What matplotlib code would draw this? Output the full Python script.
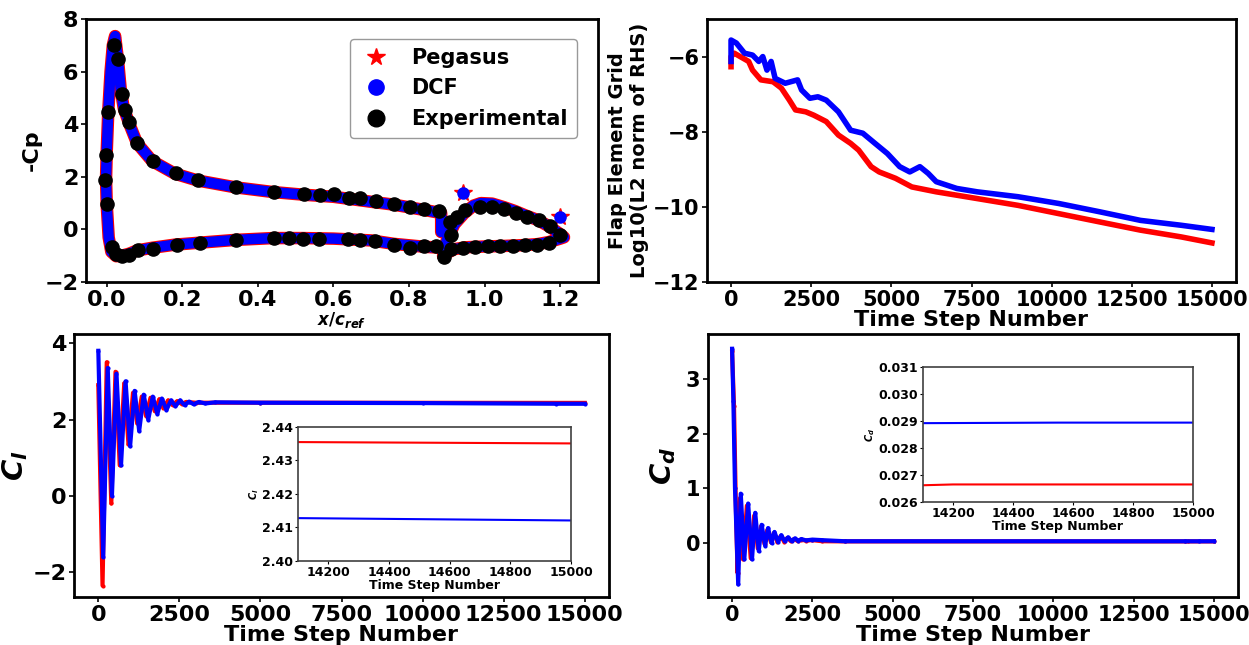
import matplotlib
matplotlib.use("Agg")
import matplotlib.pyplot as plt
from matplotlib.lines import Line2D

plt.rcParams["font.family"] = ["DejaVu Sans"]
plt.rcParams["font.weight"] = "bold"
plt.rcParams["axes.labelweight"] = "bold"
plt.rcParams["mathtext.fontset"] = "dejavusans"

# ---- Cp distribution (x/c_ref, -Cp) ----
main_x = [0.885, 0.885, 0.84, 0.76, 0.70, 0.60, 0.52, 0.44, 0.34, 0.24, 0.18, 0.12,
          0.08, 0.06, 0.045, 0.037, 0.03, 0.022, 0.016, 0.01, 0.004, 0.0, -0.002,
          0.0, 0.005, 0.012, 0.025, 0.04, 0.06, 0.08, 0.12, 0.18, 0.25, 0.34, 0.44,
          0.52, 0.60, 0.70, 0.76, 0.84, 0.885]
main_cp = [-0.1, 0.62, 0.74, 0.94, 1.05, 1.24, 1.32, 1.42, 1.6, 1.86, 2.12, 2.6,
           3.28, 4.0, 4.6, 5.3, 6.4, 7.35, 7.0, 6.0, 4.5, 3.0, 1.9, 0.9, -0.3,
           -0.85, -1.02, -1.0, -0.92, -0.8, -0.7, -0.58, -0.5, -0.4, -0.33, -0.33,
           -0.35, -0.42, -0.55, -0.66, -0.7]
flap_x = [0.89, 0.90, 0.92, 0.945, 0.97, 0.99, 1.02, 1.05, 1.08, 1.11, 1.14, 1.17,
          1.20, 1.21, 1.20, 1.17, 1.14, 1.10, 1.05, 1.0, 0.95, 0.92, 0.90, 0.89]
flap_cp = [-1.0, -0.4, 0.2, 0.6, 0.9, 1.0, 0.98, 0.85, 0.7, 0.52, 0.36, 0.12,
           -0.18, -0.3, -0.35, -0.48, -0.56, -0.6, -0.63, -0.65, -0.68, -0.75,
           -0.9, -1.0]
spike_x = [0.943, 1.20]
spike_cp = [1.39, 0.48]

exp_x = [0.018, 0.029, 0.041, 0.049, 0.060, 0.080, 0.121, 0.183, 0.242, 0.342,
         0.443, 0.522, 0.563, 0.601, 0.642, 0.671, 0.713, 0.761, 0.802, 0.840,
         0.879, 0.003, -0.002, -0.004, 0.0, 0.015, 0.024, 0.039, 0.060, 0.083,
         0.123, 0.186, 0.246, 0.342, 0.443, 0.481, 0.519, 0.561, 0.638, 0.671,
         0.710, 0.761, 0.802, 0.840, 0.871, 0.892, 0.912, 0.907, 0.928, 0.948,
         0.989, 1.020, 1.051, 1.082, 1.113, 1.143, 1.172, 1.200, 0.912, 0.943,
         0.974, 1.008, 1.041, 1.075, 1.108, 1.138, 1.169]
exp_cp = [7.02, 6.48, 5.14, 4.54, 4.07, 3.30, 2.60, 2.13, 1.86, 1.61, 1.44, 1.34,
          1.30, 1.34, 1.21, 1.18, 1.07, 0.97, 0.86, 0.77, 0.69, 4.48, 2.83, 1.88,
          0.96, -0.67, -0.92, -1.02, -0.98, -0.79, -0.73, -0.60, -0.51, -0.39,
          -0.34, -0.31, -0.37, -0.35, -0.37, -0.39, -0.46, -0.59, -0.69, -0.64,
          -0.63, -1.05, -0.22, 0.29, 0.48, 0.73, 0.86, 0.86, 0.77, 0.64, 0.48,
          0.35, 0.13, -0.22, -0.73, -0.69, -0.67, -0.64, -0.64, -0.63, -0.60,
          -0.58, -0.51]

# ---- flap residual history ----
res_peg_step = [0, 0, 100, 550, 670, 930, 1310, 1570, 1820, 2010, 2330, 2580, 2970,
                3350, 3730, 3980, 4370, 4620, 5130, 5640, 6400, 7680, 8950, 10220,
                11490, 12770, 14040, 15000]
res_peg = [-6.27, -6.0, -5.91, -6.13, -6.36, -6.62, -6.67, -6.84, -7.16, -7.42,
           -7.47, -7.56, -7.73, -8.09, -8.31, -8.49, -8.93, -9.07, -9.24, -9.47,
           -9.6, -9.78, -9.96, -10.18, -10.4, -10.62, -10.8, -10.96]
res_dcf_step = [0, 0, 165, 420, 670, 865, 990, 1120, 1250, 1375, 1690, 2075, 2200,
                2460, 2710, 2970, 3350, 3730, 4110, 4490, 4875, 5260, 5575, 5890,
                6150, 6400, 7040, 7680, 8950, 10220, 11490, 12770, 14040, 15000]
res_dcf = [-6.13, -5.56, -5.64, -5.91, -5.96, -6.13, -6.0, -6.36, -6.13, -6.58,
           -6.71, -6.62, -6.89, -7.11, -7.07, -7.16, -7.47, -7.96, -8.04, -8.31,
           -8.58, -8.93, -9.07, -8.93, -9.11, -9.33, -9.51, -9.6, -9.73, -9.91,
           -10.13, -10.36, -10.49, -10.6]

# ---- lift coefficient history (extrema) ----
cl_peg_step = [0, 130, 260, 400, 530, 660, 800, 930, 1070, 1200, 1340, 1470, 1610,
               1740, 1880, 2010, 2150, 2290, 2430, 2570, 2710, 3000, 5000, 14100, 15000]
cl_peg = [2.9, -2.35, 3.5, -0.2, 3.25, 0.8, 2.95, 1.35, 2.7, 1.9, 2.6, 2.1, 2.57,
          2.22, 2.53, 2.3, 2.5, 2.38, 2.48, 2.41, 2.46, 2.44, 2.44, 2.4355, 2.4351]
cl_dcf_step = [0, 150, 290, 420, 560, 700, 840, 980, 1120, 1260, 1400, 1540, 1680,
               1820, 1960, 2100, 2240, 2380, 2520, 2660, 2800, 2940, 3100, 3300,
               3600, 5000, 10000, 14100, 15000]
cl_dcf = [3.8, -1.6, 3.35, 0.0, 3.2, 0.8, 3.0, 1.3, 2.75, 1.7, 2.65, 2.0, 2.6, 2.15,
          2.55, 2.25, 2.5, 2.35, 2.5, 2.38, 2.47, 2.4, 2.46, 2.42, 2.45, 2.44,
          2.43, 2.4128, 2.4121]

# ---- drag coefficient history ----
cd_peg_step = [0, 60, 120, 170, 250, 340, 460, 580, 690, 800, 900, 1010, 1100, 1210,
               1300, 1410, 1510, 1620, 1720, 1830, 1930, 2040, 2140, 2300, 2500,
               2800, 3500, 14100, 14200, 15000]
cd_peg = [3.5, 2.5, 0.6, -0.55, 0.82, -0.3, 0.68, -0.28, 0.5, -0.1, 0.3, -0.02,
          0.24, 0.01, 0.18, 0.02, 0.12, 0.025, 0.09, 0.03, 0.07, 0.035, 0.06, 0.04,
          0.05, 0.03, 0.027, 0.02662, 0.02665, 0.02665]
cd_dcf_step = [0, 40, 90, 190, 270, 380, 500, 620, 720, 830, 920, 1030, 1120, 1230,
               1320, 1430, 1530, 1640, 1740, 1850, 1950, 2060, 2160, 2300, 2500,
               2800, 3500, 14100, 14550, 15000]
cd_dcf = [3.55, 2.6, 1.0, -0.76, 0.9, -0.3, 0.72, -0.3, 0.55, -0.15, 0.33, -0.05,
          0.27, 0.0, 0.2, 0.02, 0.14, 0.03, 0.1, 0.035, 0.08, 0.04, 0.07, 0.045,
          0.06, 0.05, 0.03, 0.02892, 0.02894, 0.02894]

W, H = 1249, 645
STEPS = [0, 2500, 5000, 7500, 10000, 12500, 15000]


def box(left, top, right, bottom):
    return [left / W, 1 - bottom / H, (right - left) / W, (bottom - top) / H]


def style(ax, lw=2.0, size=15):
    for s in ax.spines.values():
        s.set_linewidth(lw)
    ax.tick_params(labelsize=size, width=1.2, pad=2)


def style_inset(ax):
    for s in ax.spines.values():
        s.set_linewidth(1.2)
        s.set_edgecolor("0.25")
    ax.tick_params(labelsize=9, length=2, pad=1.5)


fig = plt.figure(figsize=(W / 100, H / 100), dpi=100)

# top left: Cp
ax1 = fig.add_axes(box(86, 19, 598, 282))
for xs, ys in [(main_x, main_cp), (flap_x, flap_cp)]:
    ax1.plot(xs, ys, color="red", lw=9, solid_capstyle="round", solid_joinstyle="round")
for xs, ys in [(main_x, main_cp), (flap_x, flap_cp)]:
    ax1.plot(xs, ys, color="blue", lw=7.5, solid_capstyle="round", solid_joinstyle="round")
ax1.plot(spike_x, spike_cp, "*", color="red", ms=13, ls="none")
ax1.plot(spike_x, spike_cp, "o", color="blue", ms=8, ls="none")
ax1.plot(exp_x, exp_cp, "o", color="black", ms=9.5, ls="none")
ax1.set_xlim(-0.055, 1.30)
ax1.set_ylim(-2, 8)
ax1.set_xticks([0.0, 0.2, 0.4, 0.6, 0.8, 1.0, 1.2])
ax1.set_ylabel("-Cp", fontsize=16, labelpad=2)
ax1.set_xlabel(r"$\boldsymbol{x/c_{ref}}$", fontsize=12, labelpad=0)
style(ax1, size=16)
handles = [Line2D([], [], marker="*", color="red", ls="none", ms=13),
           Line2D([], [], marker="o", color="blue", ls="none", ms=11),
           Line2D([], [], marker="o", color="black", ls="none", ms=12)]
leg = ax1.legend(handles, ["Pegasus", "DCF", "Experimental"], loc="upper right",
                 fontsize=15, handletextpad=0.9, borderpad=0.45, labelspacing=0.5,
                 handlelength=1.6, bbox_to_anchor=(0.98, 0.965))
leg.get_frame().set_edgecolor("0.5")

# top right: residual
ax2 = fig.add_axes(box(707, 19, 1236, 282))
ax2.plot(res_peg_step, res_peg, color="red", lw=4)
ax2.plot(res_dcf_step, res_dcf, color="blue", lw=4)
ax2.set_ylim(-12, -5)
ax2.set_yticks([-12, -10, -8, -6])
ax2.set_xticks(STEPS)
ax2.set_xlabel("Time Step Number", fontsize=16, labelpad=0)
ax2.set_ylabel("Flap Element Grid\nLog10(L2 norm of RHS)", fontsize=14, labelpad=3)
style(ax2)

# bottom left: Cl
ax3 = fig.add_axes(box(74, 334, 609, 597))
ax3.plot(cl_peg_step, cl_peg, color="red", lw=3, marker=".", ms=4)
ax3.plot(cl_dcf_step, cl_dcf, color="blue", lw=3, marker=".", ms=4)
ax3.set_ylim(-2.65, 4.24)
ax3.set_yticks([-2, 0, 2, 4])
ax3.set_xticks(STEPS)
ax3.set_xlabel("Time Step Number", fontsize=16, labelpad=0)
ax3.set_ylabel(r"$\boldsymbol{C_l}$", fontsize=21, labelpad=2)
style(ax3, size=16)

ins3 = fig.add_axes(box(298, 427, 571, 561))
ins3.plot(cl_peg_step, cl_peg, color="red", lw=1.5)
ins3.plot(cl_dcf_step, cl_dcf, color="blue", lw=1.5)
ins3.set_xlim(14100, 15000)
ins3.set_ylim(2.40, 2.44)
ins3.set_xticks([14200, 14400, 14600, 14800, 15000])
ins3.set_yticks([2.40, 2.41, 2.42, 2.43, 2.44])
ins3.set_xlabel("Time Step Number", fontsize=9, labelpad=0)
ins3.set_ylabel(r"$C_l$", fontsize=7, labelpad=1)
style_inset(ins3)

# bottom right: Cd
ax4 = fig.add_axes(box(708, 334, 1238, 597))
ax4.plot(cd_peg_step, cd_peg, color="red", lw=3, marker=".", ms=4)
ax4.plot(cd_dcf_step, cd_dcf, color="blue", lw=3, marker=".", ms=4)
ax4.set_ylim(-0.99, 3.82)
ax4.set_yticks([0, 1, 2, 3])
ax4.set_xticks(STEPS)
ax4.set_xlabel("Time Step Number", fontsize=16, labelpad=0)
ax4.set_ylabel(r"$\boldsymbol{C_d}$", fontsize=21, labelpad=6)
style(ax4, size=15)

ins4 = fig.add_axes(box(923, 367, 1193, 502))
ins4.plot(cd_peg_step, cd_peg, color="red", lw=1.5)
ins4.plot(cd_dcf_step, cd_dcf, color="blue", lw=1.5)
ins4.set_xlim(14100, 15000)
ins4.set_ylim(0.026, 0.031)
ins4.set_xticks([14200, 14400, 14600, 14800, 15000])
ins4.set_yticks([0.026, 0.027, 0.028, 0.029, 0.030, 0.031])
ins4.set_xlabel("Time Step Number", fontsize=9, labelpad=0)
ins4.set_ylabel(r"$C_d$", fontsize=7, labelpad=1)
style_inset(ins4)

fig.savefig("out.png", dpi=100)
